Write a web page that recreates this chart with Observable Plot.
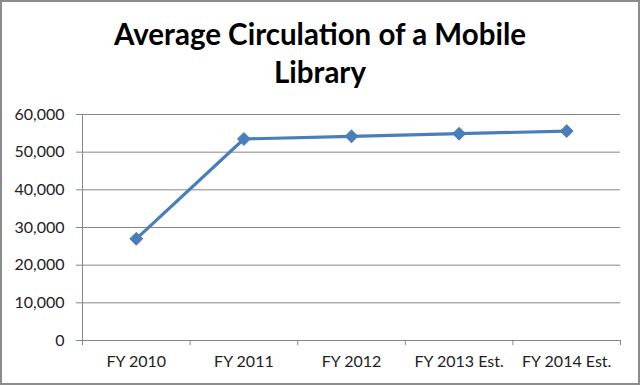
<!DOCTYPE html>
<html>
<head>
<meta charset="utf-8">
<script src="https://cdn.jsdelivr.net/npm/d3@7"></script>
<script src="https://cdn.jsdelivr.net/npm/@observablehq/plot@0.6"></script>
<style>
  html, body { margin: 0; padding: 0; background: #fff; }
  #wrap { position: relative; width: 640px; height: 385px; overflow: hidden; background: #fff; }
  #border { position: absolute; left: 0; top: 0; width: 636px; height: 381px; border: 2px solid #8c8c8c; pointer-events: none; }
  #title { position: absolute; left: 0; top: 15px; width: 640px; text-align: center; font-family: Lato, "Open Sans", sans-serif; font-weight: 700; font-size: 29.5px; line-height: 38px; color: #000; }
  #chart { position: absolute; left: 0; top: 100px; }
</style>
</head>
<body>
<div id="wrap">
  <div id="title">Average Circulation of a Mobile<br>Library</div>
  <div id="chart"></div>
  <div id="border"></div>
</div>
<script>
const categories = ["FY 2010", "FY 2011", "FY 2012", "FY 2013 Est.", "FY 2014 Est."];
const circulation = [27000, 53500, 54200, 54900, 55600];
const yTicks = [0, 10000, 20000, 30000, 40000, 50000, 60000];

const data = categories.map((c, i) => ({i, category: c, value: circulation[i]}));
const idx = categories.map((c, i) => i);
const bounds = [-0.5, ...idx.map(i => i + 0.5)];

const gray = "#868686";
const blue = "#4A7EBB";
const font = "Lato, 'Open Sans', sans-serif";

const plot = Plot.plot({
  width: 640,
  height: 285,
  marginTop: 14,
  marginBottom: 45,
  marginLeft: 82,
  marginRight: 20,
  style: {fontFamily: font, fontSize: "16px", color: "#222", background: "transparent"},
  x: {type: "linear", domain: [-0.5, categories.length - 0.5]},
  y: {domain: [0, 60000]},
  marks: [
    Plot.gridY(yTicks, {stroke: gray, strokeOpacity: 1}),
    Plot.ruleX([-0.5], {stroke: gray}),
    Plot.axisY({ticks: yTicks, tickFormat: d3.format(","), tickSize: 6, tickPadding: 12, stroke: gray, strokeOpacity: 1, label: null, fill: "#222"}),
    Plot.axisX({ticks: bounds, tickFormat: () => "", tickSize: 5, stroke: gray, strokeOpacity: 1, label: null}),
    Plot.axisX({ticks: idx, tickFormat: i => categories[i], tickSize: 0, tickPadding: 15, label: null, fill: "#222"}),
    Plot.line(data, {x: "i", y: "value", stroke: blue, strokeWidth: 3.2}),
    Plot.dot(data, {x: "i", y: "value", symbol: "diamond2", r: 5.8, fill: blue, stroke: blue, strokeWidth: 1})
  ]
});
document.getElementById("chart").appendChild(plot);
</script>
</body>
</html>
